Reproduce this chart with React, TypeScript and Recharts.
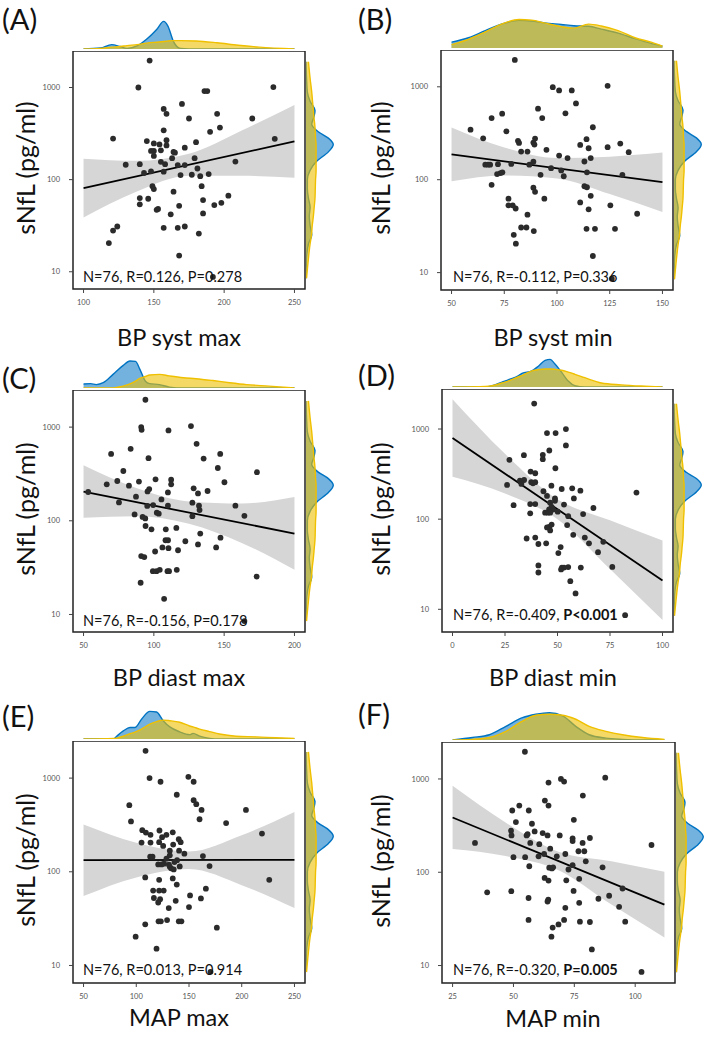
import React from 'react';
import { ComposedChart, AreaChart, Area, Line, Scatter, XAxis, YAxis, ReferenceArea } from 'recharts';

const FONT = 'Lato, "Open Sans", sans-serif';
const BLUE = '#0073C2';
const YELLOW = '#EFC000';

type Pt = [number, number];

const yTicks = [10, 100, 1000];

// right-hand marginal (sNfL) is the same in every panel
const rightY = [1905, 1259, 891, 708, 562, 479, 398, 331, 282, 240, 200, 158, 126, 100, 79, 63, 50, 40, 32, 25, 20, 14, 8.5];
const rightBlue = [0, 0.02, 0.05, 0.15, 0.33, 0.29, 0.21, 0.45, 0.82, 1.0, 0.82, 0.39, 0.15, 0.05, 0.05, 0.09, 0.15, 0.12, 0.15, 0.21, 0.09, 0.02, 0];
const rightYellow = [0.09, 0.15, 0.21, 0.24, 0.27, 0.29, 0.32, 0.34, 0.35, 0.37, 0.37, 0.37, 0.37, 0.35, 0.34, 0.33, 0.3, 0.27, 0.23, 0.2, 0.15, 0.09, 0.02];

// (A) BP syst max
const ptsA: Pt[] = [[147,1960],[139,1000],[186,914],[188,914],[235,1010],[170,663],[157,586],[159,518],[175,461],[195,518],[220,461],[197,367],[157,343],[190,330],[121,279],[236,277],[145,262],[159,268],[159,235],[180,255],[150,247],[154,241],[148,205],[150,205],[172,222],[155,208],[164,200],[165,196],[150,181],[163,171],[179,171],[130,145],[140,147],[155,156],[158,147],[167,144],[172,144],[181,132],[208,157],[143,118],[148,123],[157,122],[169,112],[177,113],[183,109],[189,115],[149,85],[150,79],[184,85],[164,74],[140,63],[146,62],[185,60],[203,67],[198,56],[193,53],[140,54],[168,52],[153,48],[152,47],[162,42],[185,43],[124,31],[121,28],[157,30],[167,30],[172,31],[182,26],[118,20.5],[168,15],[192,8.8]];
const xLimA = [100, 250];
const xTicksA = [100, 150, 200, 250];
const lineXA = [100, 250];
const lineYA = [81, 260];
const bandXA = [100, 137.5, 175, 212.5, 250];
const bandLoA = [38.7, 74, 110, 110, 105];
const bandHiA = [169, 160, 191, 342, 646];
const topXA = [100, 112, 120, 126, 131, 138, 145, 152, 157, 160, 164, 169, 180, 195, 210, 225, 250];
const topBlueA = [0, 0.03, 0.14, 0.08, 0.02, 0.1, 0.32, 0.63, 0.89, 0.74, 0.24, 0.02, 0, 0, 0, 0, 0];
const topYellowA = [0, 0.02, 0.06, 0.08, 0.11, 0.14, 0.19, 0.22, 0.24, 0.26, 0.27, 0.27, 0.26, 0.2, 0.12, 0.06, 0];

// (B) BP syst min
const ptsB: Pt[] = [[80,1945],[98,992],[101,914],[107,914],[124,1025],[109,663],[91,581],[74,514],[104,518],[69,461],[93,461],[76,332],[59,346],[117,367],[65,279],[81.5,262],[82,249],[89.6,277],[88.8,251],[89.3,239],[114,273],[111,237],[115,218],[124,224],[130,245],[134,198],[83,201],[86,201],[95,210],[101,182],[105,171],[113,157],[116,171],[66,145],[67.3,145],[68.3,145],[72,147],[73.2,118],[74.1,120],[71.6,115],[78.3,148],[88.8,156],[86.9,145],[92.2,113],[97.2,133],[102,126],[103.2,109],[114.2,120],[131,113],[69,88],[88.8,82],[89.6,74],[113,85],[114.2,83],[116,67],[77,62.5],[94,62.5],[77,53],[79,53],[80.4,49],[111,57],[115,48],[125.3,53],[138,43],[86,42],[83,30.6],[85.5,30.6],[89,28],[79.5,25.5],[80.5,20.5],[114,29.6],[118,29.6],[127.5,29.6],[117,15.1],[126,8.6]];
const xLimB = [50, 150];
const xTicksB = [50, 75, 100, 125, 150];
const lineXB = [50, 150];
const lineYB = [187, 94];
const bandXB = [50, 75, 100, 125, 150];
const bandLoB = [96, 111, 103, 70, 45];
const bandHiB = [365, 222, 171, 177, 196];
const topXB = [50, 58, 66, 74, 82, 88, 94, 102, 108, 115, 121, 129, 137, 145, 150];
const topBlueB = [0.19, 0.33, 0.56, 0.78, 0.89, 0.87, 0.81, 0.76, 0.72, 0.7, 0.61, 0.48, 0.3, 0.14, 0.06];
const topYellowB = [0.11, 0.28, 0.52, 0.78, 0.92, 0.9, 0.81, 0.69, 0.64, 0.77, 0.71, 0.56, 0.33, 0.18, 0.06];

// (C) BP diast max
const ptsC: Pt[] = [[94,1960],[91,1000],[91.3,936],[110.4,921],[126.4,1025],[130.4,663],[83.5,586],[69.6,518],[96.2,466],[135.4,462],[147.2,518],[145.5,366],[78.3,340],[173.3,330],[74,266],[89.4,262],[101.2,277],[112.3,275],[112.3,245],[66.5,245],[82.3,237],[96.7,218],[95.5,206],[110,201],[128.3,222],[131.4,196],[138.2,208],[150.2,258],[53.3,203],[87.3,181],[105.4,169],[75.2,157],[95.3,144],[99.5,147],[110,145],[127.4,156],[132.1,145],[132.5,130],[158,145],[164.4,113],[102.1,122],[103.5,119],[86.3,117],[92,110],[93.9,106],[127.4,112],[94.1,88],[98.3,81],[108.5,81],[116,84],[133,73],[108.3,62],[110.1,62],[122.4,60.5],[147.4,66],[131.4,56],[144.3,52],[106.1,52],[110.4,51],[117.2,48.5],[100.9,47],[91,42],[93.2,41],[99.3,29],[101.9,29],[104.2,30],[109.7,29],[110.8,29],[116.3,30],[90.6,21.8],[107.3,14.7],[173.1,25.4],[164.4,8.5]];
const xLimC = [50, 200];
const xTicksC = [50, 100, 150, 200];
const lineXC = [50, 200];
const lineYC = [205, 73];
const bandXC = [50, 87.5, 125, 162.5, 200];
const bandLoC = [108, 112, 93, 58, 30];
const bandHiC = [391, 224, 161, 153, 179];
const topXC = [50, 55, 59, 64, 71, 78, 83, 87, 90, 94, 97, 104, 111, 121, 130, 142, 154, 166, 182, 200];
const topBlueC = [0.13, 0.14, 0.11, 0.17, 0.44, 0.72, 0.87, 0.86, 0.61, 0.22, 0.14, 0.11, 0.03, 0, 0, 0, 0, 0, 0, 0];
const topYellowC = [0, 0, 0, 0, 0, 0.06, 0.13, 0.22, 0.31, 0.37, 0.42, 0.44, 0.39, 0.33, 0.3, 0.24, 0.17, 0.11, 0.06, 0];

// (D) BP diast min
const ptsD: Pt[] = [[38.9,1917],[45,902],[49.1,902],[54,1000],[54,657],[46.1,578],[34,513],[43,517],[43,463],[27.1,455],[49,367],[37.2,337],[39.4,323],[32.1,268],[34.1,272],[37.5,257],[38.3,250],[39.4,257],[26,240],[32.8,246],[47.1,235],[43.3,204],[52,216],[57,220],[60.9,207],[45,181],[48.8,170],[48.8,160],[57.8,170],[29.1,143],[37,147],[39.4,147],[46.5,152],[47.2,137],[53.1,145],[67.1,133],[46,128],[47.9,128],[37,116],[44.1,118],[45.4,118],[46.5,118],[50.1,121],[55.1,108],[62.2,114],[46.1,82],[45,81],[47.2,87],[54.6,86],[46.5,75],[57.5,67],[35.3,61],[39.4,62.5],[63,62.5],[71.8,56],[40.9,53],[44.6,54],[65,54],[51.5,49],[50.4,42],[69.3,43],[40.9,30.7],[40.9,25.6],[52.1,29],[53.1,29],[55.1,29.4],[61.1,29],[76.1,29.5],[51.7,27.7],[56.1,20.5],[58.6,15],[82.2,8.6],[87.6,197]];
const xLimD = [0, 100];
const xTicksD = [0, 25, 50, 75, 100];
const lineXD = [0, 100];
const lineYD = [794, 20.9];
const bandXD = [0, 25, 50, 75, 100];
const bandLoD = [295, 193, 100, 28, 7.6];
const bandHiD = [2138, 531, 166, 97, 58];
const topXD = [0, 15.7, 18.9, 23.6, 26.8, 31.5, 33.1, 37.8, 40.9, 44.1, 46.5, 48.8, 52, 55.1, 58.3, 63, 70.9, 80.3, 89.8, 100];
const topBlueD = [0, 0, 0.04, 0.16, 0.24, 0.37, 0.44, 0.52, 0.67, 0.86, 0.89, 0.74, 0.47, 0.19, 0.04, 0, 0, 0, 0, 0];
const topYellowD = [0, 0.02, 0.04, 0.13, 0.2, 0.33, 0.37, 0.52, 0.56, 0.58, 0.58, 0.57, 0.54, 0.48, 0.41, 0.3, 0.13, 0.07, 0.03, 0];

// (E) MAP max
const ptsE: Pt[] = [[108.8,1958],[112.6,1000],[123,914],[149.4,1033],[154.4,914],[138.4,664],[154.4,582],[156.9,527],[93.4,514],[161.9,458],[204,458],[160,364],[95,345],[185.2,331],[105.7,278],[109.1,262],[113.5,248],[122,276],[134.6,264],[128.6,248],[124.5,234],[105,205],[113.5,205],[121.7,207],[140.3,223],[142.1,207],[135,195],[125.5,189],[219.2,256],[131.8,168],[140.6,168],[145.6,156],[113.2,145],[115.4,145],[163.2,147],[131.8,150],[128.6,138],[138.7,133],[136.2,127],[126.4,122],[120.8,120],[124,120],[131.8,113],[133,109],[135.5,106],[141.2,114],[169.5,115],[131,119],[108.5,87],[121.7,82],[134.6,85],[138.4,73],[226.1,82],[116,63],[121.7,63],[126,63],[116.7,52.5],[122.6,51],[120.8,47],[137.4,49],[151,56],[166,66],[161.3,52],[150,42],[130.8,41],[121.1,29.6],[123.3,29.6],[129.2,30.5],[140.3,29.6],[142.8,29.6],[108.5,27.5],[176.4,25.3],[99.4,20.3],[119.2,15.1],[170.4,8.55]];
const xLimE = [50, 250];
const xTicksE = [50, 100, 150, 200, 250];
const lineXE = [50, 250];
const lineYE = [133, 134];
const bandXE = [50, 100, 150, 200, 250];
const bandLoE = [55, 87, 107, 72, 41];
const bandHiE = [319, 204, 165, 246, 434];
const topXE = [50, 78.3, 81.4, 87.7, 94, 98.7, 105, 112.9, 119.2, 125.5, 131.8, 141.2, 150.6, 153.8, 160.1, 169.5, 178.9, 194.7, 213.5, 232.4, 250];
const topBlueE = [0, 0, 0.09, 0.26, 0.37, 0.37, 0.64, 0.89, 0.87, 0.59, 0.39, 0.23, 0.14, 0.18, 0.09, 0.02, 0, 0, 0, 0, 0];
const topYellowE = [0, 0.02, 0.03, 0.09, 0.17, 0.22, 0.32, 0.48, 0.56, 0.61, 0.59, 0.54, 0.42, 0.39, 0.32, 0.24, 0.16, 0.09, 0.07, 0.04, 0.02];

// (F) MAP min
const ptsF: Pt[] = [[54.7,1958],[69.5,1000],[70.8,937],[64.4,914],[87.7,1033],[78.5,664],[62.9,587],[64.4,519],[52.4,519],[49.5,459],[56.3,459],[74.8,365],[57.6,331],[51,345],[49,279],[49.2,248],[55.8,256],[55.4,248],[58.7,274],[62,263],[64,248],[69,248],[74.3,231],[74.3,216],[78.4,206],[81.4,233],[34.2,206],[56.9,206],[60.6,200],[65.1,179],[62.6,157],[60.3,148],[67.8,148],[50,145],[54.8,145],[71.3,157],[76.7,168],[79.1,168],[79.7,131],[74.3,119],[72.6,107],[64.7,112],[65.8,110],[66.3,113],[56.5,116],[86.6,113],[62.8,87],[64.4,81.5],[71.7,82],[77,85],[49.1,62.7],[39.2,61],[74.7,63],[56.2,53],[64.3,51],[64,48.6],[77,47],[84.9,52],[89.3,56],[94.8,67],[93.4,42.6],[71.3,41.6],[56.2,30.8],[70.8,30.8],[68.5,27.6],[66.1,25.5],[65.6,20.4],[77.3,29.5],[81.4,29.3],[95.9,29.5],[82.2,14.9],[102.6,8.55],[106.7,196]];
const xLimF = [25, 112];
const xTicksF = [25, 50, 75, 100];
const lineXF = [25, 112];
const lineYF = [386, 45];
const bandXF = [25, 46.75, 68.5, 90.25, 112];
const bandLoF = [177, 149, 105, 45, 20];
const bandHiF = [845, 342, 166, 131, 101];
const topXF = [25, 33.2, 40.1, 46.9, 53.7, 59.2, 64.7, 70.2, 75.6, 81.1, 88, 94.8, 103, 112];
const topBlueF = [0, 0.08, 0.17, 0.44, 0.72, 0.83, 0.88, 0.78, 0.44, 0.17, 0.06, 0.02, 0, 0];
const topYellowF = [0, 0.02, 0.08, 0.28, 0.61, 0.8, 0.83, 0.8, 0.67, 0.44, 0.28, 0.17, 0.08, 0.02];

const yDomainStd = [6.5, 2490];
const yDomainD = [5.6, 2780];

function expand([a, b]: number[]) {
  const pad = (b - a) * 0.05;
  return [a - pad, b + pad];
}

const dot = (props: any) => <circle cx={props.cx} cy={props.cy} r={2.9} fill="#2b2b2b" />;

const tickStyle = { fontSize: 7.5, fill: '#555', fontFamily: FONT };

function Panel(p: any) {
  const { box } = p;
  const AX = 50;
  const xDomain = expand(p.xLim);
  const band = p.bandX.map((x: number, i: number) => ({ x, band: [p.bandLo[i], p.bandHi[i]] }));
  const line = p.lineX.map((x: number, i: number) => ({ x, y: p.lineY[i] }));
  const pts = p.pts.map(([x, y]: Pt) => ({ x, y }));
  const top = p.topX.map((x: number, i: number) => ({ x, b: p.topBlue[i], yl: p.topYellow[i] }));
  const right = rightY.map((y, i) => ({ y, b: rightBlue[i], yl: rightYellow[i] }));

  return (
    <>
      <div style={{ position: 'absolute', left: p.tagPos[0], top: p.tagPos[1], transform: 'translateY(-50%)', fontSize: 29, fontFamily: FONT, color: '#111' }}>
        {p.tag}
      </div>
      <div style={{ position: 'absolute', left: p.yTitleX, top: box.top + box.h / 2 - 2, transform: 'translate(-50%, -50%) rotate(-90deg)', fontSize: 25, fontFamily: FONT, color: '#111', whiteSpace: 'nowrap' }}>
        sNfL (pg/ml)
      </div>
      <div style={{ position: 'absolute', left: p.titlePos[0], top: p.titlePos[1], transform: 'translate(-50%, -50%)', fontSize: 23.5, fontFamily: FONT, color: '#111', whiteSpace: 'nowrap' }}>
        {p.xTitle}
      </div>

      {/* top marginal */}
      <div style={{ position: 'absolute', left: box.left, top: box.top - 33 }}>
        <AreaChart width={box.w} height={31} data={top} margin={{ top: 0, right: 0, bottom: 0, left: 0 }}>
          <XAxis type="number" dataKey="x" domain={xDomain} hide allowDataOverflow />
          <YAxis type="number" domain={[0, 1]} hide allowDataOverflow />
          <Area dataKey="b" type="monotone" stroke={BLUE} strokeWidth={1.4} fill={BLUE} fillOpacity={0.55} isAnimationActive={false} />
          <Area dataKey="yl" type="monotone" stroke={YELLOW} strokeWidth={1.4} fill={YELLOW} fillOpacity={0.6} isAnimationActive={false} />
        </AreaChart>
      </div>

      {/* right marginal */}
      <div style={{ position: 'absolute', left: box.left + box.w + 1, top: box.top }}>
        <AreaChart layout="vertical" width={30} height={box.h} data={right} margin={{ top: 0, right: 0, bottom: 0, left: 0 }}>
          <XAxis type="number" domain={[0, 1.1]} hide allowDataOverflow />
          <YAxis type="number" dataKey="y" scale="log" domain={p.yDomain} reversed hide allowDataOverflow />
          <Area dataKey="b" type="monotone" stroke={BLUE} strokeWidth={1.4} fill={BLUE} fillOpacity={0.55} isAnimationActive={false} />
          <Area dataKey="yl" type="monotone" stroke={YELLOW} strokeWidth={1.4} fill={YELLOW} fillOpacity={0.6} isAnimationActive={false} />
        </AreaChart>
      </div>

      {/* main scatter */}
      <div style={{ position: 'absolute', left: box.left - AX, top: box.top }}>
        <ComposedChart width={box.w + AX + 2} height={box.h + 30} data={band} margin={{ top: 0, right: 2, bottom: 0, left: 0 }}>
          <XAxis type="number" dataKey="x" domain={xDomain} ticks={p.xTicks} allowDataOverflow axisLine={false}
            tickSize={4} tickMargin={7} tick={tickStyle} tickLine={{ stroke: '#444' }} height={30} />
          <YAxis type="number" scale="log" domain={p.yDomain} ticks={yTicks} allowDataOverflow axisLine={false}
            width={AX} tickSize={4} tickMargin={9} tick={tickStyle} tickLine={{ stroke: '#444' }} />
          <Area dataKey="band" type="monotone" stroke="none" fill="#d6d6d6" fillOpacity={1} isAnimationActive={false} />
          <Scatter data={pts} dataKey="y" fill="#2b2b2b" shape={dot} isAnimationActive={false} />
          <Line data={line} dataKey="y" type="linear" stroke="#000" strokeWidth={1.8} dot={false} isAnimationActive={false} />
          <ReferenceArea x1={xDomain[0]} x2={xDomain[1]} y1={p.yDomain[0]} y2={p.yDomain[1]}
            fill="#fff" fillOpacity={0} stroke="#222" strokeWidth={1.5} ifOverflow="visible" />
        </ComposedChart>
      </div>

      <div style={{ position: 'absolute', left: p.statPos[0], top: p.statPos[1], transform: 'translateY(-50%)', fontSize: 14.5, fontFamily: FONT, color: '#111', whiteSpace: 'nowrap' }}>
        {p.stat}
        {p.statBold && <b>{p.statBold}</b>}
      </div>
    </>
  );
}

const panels = [
  {
    tag: '(A)', xTitle: 'BP syst max', stat: 'N=76, R=0.126, P=0.278',
    pts: ptsA, xLim: xLimA, xTicks: xTicksA, yDomain: yDomainStd, lineX: lineXA, lineY: lineYA,
    bandX: bandXA, bandLo: bandLoA, bandHi: bandHiA, topX: topXA, topBlue: topBlueA, topYellow: topYellowA,
    box: { left: 73, top: 51, w: 232, h: 238 }, tagPos: [2, 18], titlePos: [179, 337], statPos: [83, 276], yTitleX: 25,
  },
  {
    tag: '(B)', xTitle: 'BP syst min', stat: 'N=76, R=-0.112, P=0.336',
    pts: ptsB, xLim: xLimB, xTicks: xTicksB, yDomain: yDomainStd, lineX: lineXB, lineY: lineYB,
    bandX: bandXB, bandLo: bandLoB, bandHi: bandHiB, topX: topXB, topBlue: topBlueB, topYellow: topYellowB,
    box: { left: 441, top: 50, w: 232, h: 240 }, tagPos: [358, 18], titlePos: [553, 337], statPos: [453, 276], yTitleX: 380,
  },
  {
    tag: '(C)', xTitle: 'BP diast max', stat: 'N=76, R=-0.156, P=0.178',
    pts: ptsC, xLim: xLimC, xTicks: xTicksC, yDomain: yDomainStd, lineX: lineXC, lineY: lineYC,
    bandX: bandXC, bandLo: bandLoC, bandHi: bandHiC, topX: topXC, topBlue: topBlueC, topYellow: topYellowC,
    box: { left: 73, top: 390, w: 232, h: 242 }, tagPos: [2, 377], titlePos: [179, 677], statPos: [83, 620], yTitleX: 25,
  },
  {
    tag: '(D)', xTitle: 'BP diast min', stat: 'N=76, R=-0.409, ', statBold: 'P<0.001',
    pts: ptsD, xLim: xLimD, xTicks: xTicksD, yDomain: yDomainD, lineX: lineXD, lineY: lineYD,
    bandX: bandXD, bandLo: bandLoD, bandHi: bandHiD, topX: topXD, topBlue: topBlueD, topYellow: topYellowD,
    box: { left: 442, top: 389, w: 231, h: 243 }, tagPos: [358, 374], titlePos: [553, 677], statPos: [453, 614], yTitleX: 380,
  },
  {
    tag: '(E)', xTitle: 'MAP max', stat: 'N=76, R=0.013, P=0.914',
    pts: ptsE, xLim: xLimE, xTicks: xTicksE, yDomain: yDomainStd, lineX: lineXE, lineY: lineYE,
    bandX: bandXE, bandLo: bandLoE, bandHi: bandHiE, topX: topXE, topBlue: topBlueE, topYellow: topYellowE,
    box: { left: 73, top: 741, w: 232, h: 242 }, tagPos: [2, 715], titlePos: [179, 1017], statPos: [83, 969], yTitleX: 25,
  },
  {
    tag: '(F)', xTitle: 'MAP min', stat: 'N=76, R=-0.320, ', statBold: 'P=0.005',
    pts: ptsF, xLim: xLimF, xTicks: xTicksF, yDomain: yDomainStd, lineX: lineXF, lineY: lineYF,
    bandX: bandXF, bandLo: bandLoF, bandHi: bandHiF, topX: topXF, topBlue: topBlueF, topYellow: topYellowF,
    box: { left: 442, top: 742, w: 233, h: 241 }, tagPos: [358, 713], titlePos: [553, 1018], statPos: [453, 969], yTitleX: 380,
  },
];

export default function App() {
  return (
    <div style={{ position: 'absolute', left: 0, top: 0, width: 709, height: 1039, background: '#fff', overflow: 'hidden' }}>
      {panels.map((p) => (
        <Panel key={p.tag} {...p} />
      ))}
    </div>
  );
}
